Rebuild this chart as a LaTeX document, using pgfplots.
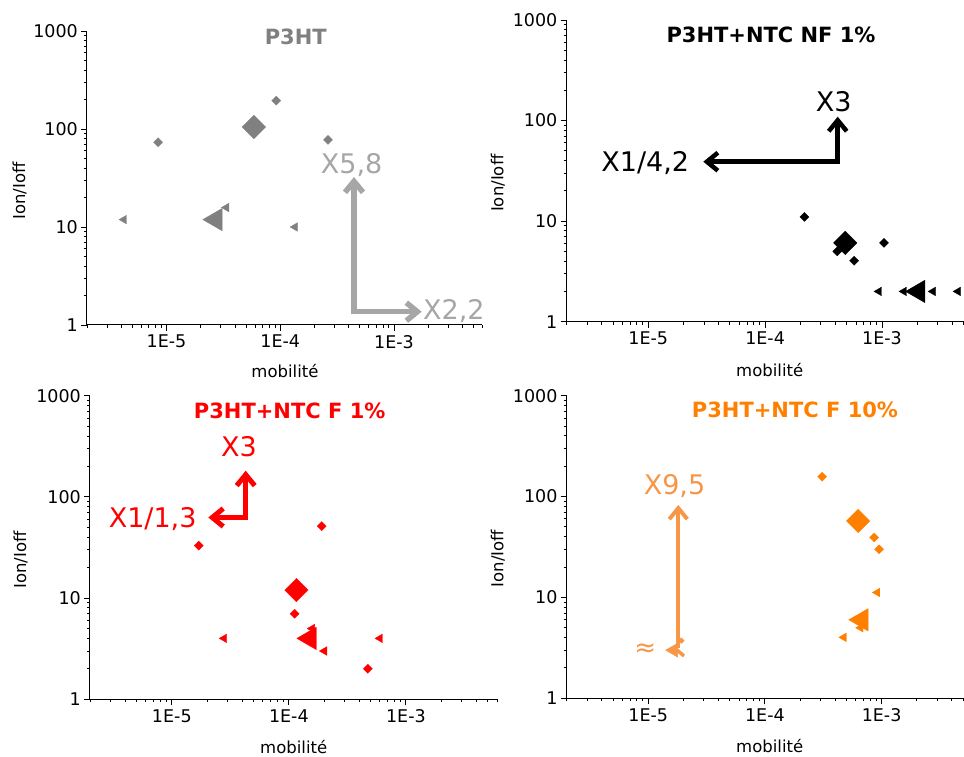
\documentclass[border=0pt]{standalone}
\usepackage{fontspec}
\setmainfont{DejaVu Sans}
\usepackage{pgfplots}
\pgfplotsset{compat=1.18}
\usetikzlibrary{arrows.meta}
\definecolor{pgray}{RGB}{128,128,128}
\definecolor{lgray}{RGB}{166,166,166}
\definecolor{pred}{RGB}{255,0,0}
\definecolor{porange}{RGB}{255,128,0}
\definecolor{lorange}{RGB}{247,150,70}
\pgfplotsset{
  myaxis/.style={
    scale only axis,
    xmin=2e-6, xmax=6e-3, ymin=1, ymax=1000,
    axis x line*=bottom, axis y line*=left,
    axis line style={line width=1pt,-},
    tick align=outside, major tick length=6pt, minor tick length=3pt,
    every tick/.style={black, line width=0.9pt},
    xtick={1e-5,1e-4,1e-3}, xticklabels={1E-5,1E-4,1E-3},
    ytick={1,10,100,1000}, yticklabels={1,10,100,1000},
    minor xtick={2e-6,3e-6,4e-6,5e-6,6e-6,7e-6,8e-6,9e-6,2e-5,3e-5,4e-5,5e-5,6e-5,7e-5,8e-5,9e-5,2e-4,3e-4,4e-4,5e-4,6e-4,7e-4,8e-4,9e-4,2e-3,3e-3,4e-3,5e-3,6e-3},
    minor ytick={2,3,4,5,6,7,8,9,20,30,40,50,60,70,80,90,200,300,400,500,600,700,800,900},
    tick label style={font=\fontsize{17.5}{17.5}\selectfont},
    xticklabel style={anchor=north, inner sep=0pt, yshift=-4pt},
    yticklabel style={anchor=east, inner sep=0pt, xshift=-3pt},
    clip=false,
  },
  sdia/.style={only marks, mark=square*, mark size=3.2pt, mark options={rotate=45, line width=0.3pt}},
  bdia/.style={only marks, mark=square*, mark size=8.3pt, mark options={rotate=45, line width=0.3pt}},
  stri/.style={only marks, mark=triangle*, mark size=5pt, mark options={rotate=90, line width=0.3pt}},
  btri/.style={only marks, mark=triangle*, mark size=13pt, mark options={rotate=90, line width=0.3pt}},
}
\tikzset{
  ann/.style={inner sep=0pt, font=\fontsize{27}{27}\selectfont},
  ttl/.style={inner sep=0pt, font=\fontsize{21}{21}\selectfont\bfseries, anchor=base},
  lab/.style={inner sep=0pt, font=\fontsize{16.5}{16.5}\selectfont, anchor=base},
  barb/.style={line width=#1, line join=miter},
}
\begin{document}
\begin{tikzpicture}
\useasboundingbox (0,0) rectangle (964pt,757pt);
% Panel 1: P3HT
\begin{axis}[xmode=log, ymode=log, myaxis, at={(87pt,432pt)}, anchor=south west, width=395.5pt, height=294pt]
\addplot[sdia, color=pgray] coordinates {(8.45e-6,73.3) (9.22e-5,195) (2.63e-4,77.3)};
\addplot[bdia, color=pgray] coordinates {(5.86e-5,104.8)};
\addplot[stri, color=pgray] coordinates {(4.23e-6,11.9) (3.36e-5,15.8) (1.35e-4,10)};
\addplot[btri, color=pgray] coordinates {(2.71e-5,11.9)};
\end{axis}
% Panel 2: P3HT+NTC NF 1%
\begin{axis}[xmode=log, ymode=log, myaxis, at={(566.5pt,435.3pt)}, anchor=south west, width=406.5pt, height=301.7pt]
\addplot[sdia, color=black] coordinates {(2.17e-4,11) (4.14e-4,5) (5.77e-4,4.03) (1.04e-3,6.08)};
\addplot[bdia, color=black] coordinates {(4.85e-4,6.08)};
\addplot[stri, color=black] coordinates {(9.42e-4,2) (1.54e-3,2) (2.73e-3,2) (4.47e-3,2)};
\addplot[btri, color=black] coordinates {(2.05e-3,2)};
\end{axis}
% Panel 3: P3HT+NTC F 1%
\begin{axis}[xmode=log, ymode=log, myaxis, at={(90pt,57.7pt)}, anchor=south west, width=407pt, height=303.6pt]
\addplot[sdia, color=pred] coordinates {(1.7e-5,33) (1.91e-4,51.5) (1.12e-4,7) (4.73e-4,2)};
\addplot[bdia, color=pred] coordinates {(1.16e-4,12)};
\addplot[stri, color=pred] coordinates {(2.8e-5,4) (1.58e-4,5) (2.01e-4,3) (6.0e-4,4)};
\addplot[btri, color=pred] coordinates {(1.51e-4,4)};
\end{axis}
% Panel 4: P3HT+NTC F 10%
\begin{axis}[xmode=log, ymode=log, myaxis, at={(566.7pt,58.7pt)}, anchor=south west, width=405.7pt, height=302.6pt]
\addplot[sdia, color=porange] coordinates {(3.09e-4,157) (8.63e-4,39.2) (9.53e-4,30)};
\addplot[bdia, color=porange] coordinates {(6.3e-4,57.3)};
\addplot[stri, color=porange] coordinates {(9.18e-4,11.2) (6.6e-4,5) (4.74e-4,4.02)};
\addplot[btri, color=porange] coordinates {(6.75e-4,6)};
\addplot[only marks, mark=triangle*, mark size=8pt, mark options={rotate=90}, color=lorange] coordinates {(1.65e-5,3)};
\addplot[only marks, mark=square*, mark size=2pt, mark options={rotate=45}, color=lorange] coordinates {(1.92e-5,3.73)};
\end{axis}
% annotations, in pixel coordinates (y downward)
\begin{scope}[yshift=757pt, x=1pt, y=-1pt]
\node[ttl, pgray] at (295.8,45) {P3HT};
\node[ttl, black] at (771,42.7) {P3HT+NTC NF 1\%};
\node[ttl, pred] at (289.7,419) {P3HT+NTC F 1\%};
\node[ttl, porange] at (795,417.7) {P3HT+NTC F 10\%};
\node[lab] at (285,378) {mobilité};
\node[lab] at (769.7,376.7) {mobilité};
\node[lab] at (293.7,753.5) {mobilité};
\node[lab] at (769.7,753) {mobilité};
\node[lab, rotate=90] at (25,190.8) {Ion/Ioff};
\node[lab, rotate=90] at (503.3,183.3) {Ion/Ioff};
\node[lab, rotate=90] at (26,560) {Ion/Ioff};
\node[lab, rotate=90] at (503.3,558.7) {Ion/Ioff};
\draw[barb=5.5pt, lgray, {Straight Barb[length=11pt,width=18pt]}-{Straight Barb[length=11pt,width=18pt]}]
  (354,177) -- (354,311.7) -- (421.7,311.7);
\node[ann, lgray, anchor=base] at (351.7,174) {X5,8};
\node[ann, lgray, anchor=base west] at (423,320) {X2,2};
\draw[barb=4.5pt, black, {Straight Barb[length=11pt,width=18pt]}-{Straight Barb[length=11pt,width=18pt]}]
  (837.7,116.7) -- (837.7,161.7) -- (703.3,161.7);
\node[ann, black, anchor=base] at (833.7,111.7) {X3};
\node[ann, black, anchor=base east] at (689.3,171.7) {X1/4,2};
\draw[barb=5pt, pred, {Straight Barb[length=11pt,width=18pt]}-{Straight Barb[length=11pt,width=18pt]}]
  (245.7,470.7) -- (245.7,517.5) -- (208.3,517.5);
\node[ann, pred, anchor=base] at (239,456.7) {X3};
\node[ann, pred, anchor=base east] at (196.7,527.3) {X1/1,3};
\draw[barb=4pt, lorange, -{Straight Barb[length=11pt,width=18pt]}] (678.3,648) -- (678.3,505);
\draw[line width=3.5pt, lorange] (677,650) -- (684,656);
\node[ann, lorange, anchor=base] at (674.5,495) {X9,5};
\node[inner sep=0pt, lorange, font=\fontsize{26}{26}\selectfont] at (645.3,650) {≈};
\end{scope}
\end{tikzpicture}
\end{document}
